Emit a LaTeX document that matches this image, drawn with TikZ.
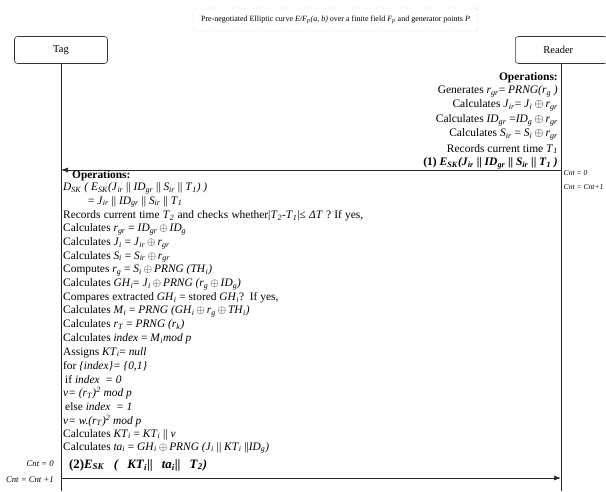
\documentclass[tikz,border=0pt]{standalone}
\usepackage{fontspec}
\setmainfont{Liberation Serif}
\usetikzlibrary{arrows.meta}
\newcommand{\ssb}[1]{\textsubscript{\textit{#1}}}
\newcommand{\xo}{\,$\oplus$\,}
\begin{document}
\begin{tikzpicture}[x=1pt,y=-1pt,
  actor/.style={draw=black!80,rounded corners=3pt,line width=0.6pt,font=\fontsize{10.5}{12}\selectfont,inner sep=0},
  life/.style={draw=black!85,line width=0.7pt},
  msg/.style={draw=black!85,line width=0.7pt,-{Latex[length=7pt,width=5pt]}},
  rline/.style={anchor=east,inner sep=0,font=\fontsize{11.5}{12}\selectfont},
  tline/.style={anchor=west,inner sep=0,font=\fontsize{11.4}{12}\selectfont},
  cnt/.style={inner sep=0,font=\fontsize{8.7}{9}\itshape\selectfont}]
\useasboundingbox (0,0) rectangle (606,491);
% header
\node[draw=black!60,dotted,rounded corners=3pt,minimum width=285pt,minimum height=23pt,inner sep=0,font=\fontsize{8}{10}\selectfont] (hdr) at (335.5,19.5)
  {Pre-negotiated Elliptic curve \textit{E/F}\ssb{p}\textit{(a, b)} over a finite field \textit{F}\ssb{p} and generator points \textit{P}};
% actors
\node[actor,minimum width=93pt,minimum height=27pt] (tag) at (61,50) {Tag};
\node[actor,minimum width=92pt,minimum height=27pt,anchor=west] (reader) at (515,50) {\hspace*{-6pt}Reader};
\coordinate (rl) at (561,63.5);
\coordinate (tagbot) at (61,491);
\coordinate (rdrbot) at (561,491);
\draw[life] (tag.south) -- (tagbot);
\draw[life] (rl) -- (rdrbot);
% reader ops
\node[rline] (r0) at (558,78) {\textbf{Operations:}};
\node[rline] (r1) at (558,91) {Generates \textit{r}\ssb{gr}= \textit{PRNG(r}\ssb{g}\textit{ )}};
\node[rline] (r2) at (558,105.5) {Calculates \textit{J}\ssb{ir}= \textit{J}\ssb{i}\xo\textit{r}\ssb{gr}};
\node[rline] (r3) at (558,120) {Calculates \textit{ID}\ssb{gr} =\textit{ID}\ssb{g}\xo\textit{r}\ssb{gr}};
\node[rline] (r4) at (558,134.5) {Calculates \textit{S}\ssb{ir} = \textit{S}\ssb{i}\xo\textit{r}\ssb{gr}};
\node[rline] (r5) at (558,149) {Records current time \textit{T}\ssb{1}};
\node[rline] (r6) at (558,163.5) {\textbf{(1) \textit{E}\textsubscript{\textit{SK}}\textit{(J}\textsubscript{\textit{ir}} || \textit{ID}\textsubscript{\textit{gr}} || \textit{S}\textsubscript{\textit{ir}} || \textit{T}\textsubscript{\textit{1}} \textit{)}}};
% message 1
\coordinate (m1r) at (561,170);
\coordinate (m1t) at (61,170);
\draw[msg] (m1r) -- (m1t);
\node[cnt,anchor=west,font=\fontsize{7.6}{9}\itshape\selectfont] (c1) at (563.5,173) {Cnt = 0};
\node[cnt,anchor=west,font=\fontsize{7.6}{9}\itshape\selectfont] (c2) at (563.5,187) {Cnt = Cnt+1};
% tag ops
\node[tline] (t0) at (72,175.5) {\textbf{Operations:}};
\node[tline] (t1) at (63,188.5) {\textit{D}\ssb{SK} \textit{( E}\ssb{SK}\textit{(J}\ssb{ir} || \textit{ID}\ssb{gr} || \textit{S}\ssb{ir} || \textit{T}\ssb{1}\textit{) )}};
\node[tline] (t2) at (88,202) {= \textit{J}\ssb{ir} || \textit{ID}\ssb{gr} || \textit{S}\ssb{ir} || \textit{T}\ssb{1}};
\node[tline] (t3) at (63,216) {\makebox[300pt][s]{Records current time \textit{T}\ssb{2} and checks whether|\textit{T}\ssb{2}\textit{-T}\ssb{1}|≤ \textit{ΔT} ? If yes,}};
\node[tline] (t4) at (63,229.6) {Calculates \textit{r}\ssb{gr} = \textit{ID}\ssb{gr}\xo\textit{ID}\ssb{g}};
\node[tline] (t5) at (63,243.3) {Calculates \textit{J}\ssb{i} = \textit{J}\ssb{ir}\xo\textit{r}\ssb{gr}};
\node[tline] (t6) at (63,256.9) {Calculates \textit{S}\ssb{i} = \textit{S}\ssb{ir}\xo\textit{r}\ssb{gr}};
\node[tline] (t7) at (63,270.6) {Computes \textit{r}\ssb{g} = \textit{S}\ssb{i}\xo\textit{PRNG (TH}\ssb{i}\textit{)}};
\node[tline] (t8) at (63,284.2) {Calculates \textit{GH}\ssb{i}= \textit{J}\ssb{i}\xo\textit{PRNG (r}\ssb{g}\xo\textit{ID}\ssb{g}\textit{)}};
\node[tline] (t9) at (63,297.9) {Compares extracted \textit{GH}\ssb{i} = stored \textit{GH}\ssb{i}?\enspace If yes,};
\node[tline] (t10) at (63,311.5) {Calculates \textit{M}\ssb{i} = \textit{PRNG (GH}\ssb{i}\xo\textit{r}\ssb{g}\xo\textit{TH}\ssb{i}\textit{)}};
\node[tline] (t11) at (63,325.2) {Calculates \textit{r}\ssb{T} = \textit{PRNG (r}\ssb{k}\textit{)}};
\node[tline] (t12) at (63,338.8) {Calculates \textit{index} = \textit{M}\ssb{i}\textit{mod p}};
\node[tline] (t13) at (63,352.5) {Assigns \textit{KT}\ssb{i}= \textit{null}};
\node[tline] (t14) at (63,366.1) {for \textit{\{index\}= \{0,1\}}};
\node[tline] (t15) at (65,379.8) {if \textit{index} \ \textit{= 0}};
\node[tline] (t16) at (63,393.4) {\textit{v= (r}\ssb{T}\textit{)}\textsuperscript{\textit{2}} \textit{mod p}};
\node[tline] (t17) at (65,407) {else \textit{index} \ \textit{= 1}};
\node[tline] (t18) at (63,420.7) {\textit{v= w.(r}\ssb{T}\textit{)}\textsuperscript{\textit{2}} \textit{mod p}};
\node[tline] (t19) at (63,434.4) {Calculates \textit{KT}\ssb{i} = \textit{KT}\ssb{i} || \textit{v}};
\node[tline] (t20) at (63,448) {Calculates \textit{ta}\ssb{i} = \textit{GH}\ssb{i}\xo\textit{PRNG (J}\ssb{i} || \textit{KT}\ssb{i} ||\textit{ID}\ssb{g}\textit{)}};
% message 2
\node[tline,font=\fontsize{12.8}{13}\selectfont] (m2lbl) at (69,465) {\makebox[138pt][s]{\textbf{(2)\textit{E}\textsubscript{\textit{SK}} \textit{( KT}\textsubscript{\textit{i}}|| \textit{ta}\textsubscript{\textit{i}}|| \textit{T}\textsubscript{\textit{2}}\textit{)}}}};
\coordinate (m2t) at (61,478);
\coordinate (m2r) at (561,478);
\draw[msg] (m2t) -- (m2r);
\node[cnt,anchor=east] (c3) at (54,464) {Cnt = 0};
\node[cnt,anchor=east] (c4) at (54,480) {Cnt = Cnt +1};
\end{tikzpicture}
\end{document}
